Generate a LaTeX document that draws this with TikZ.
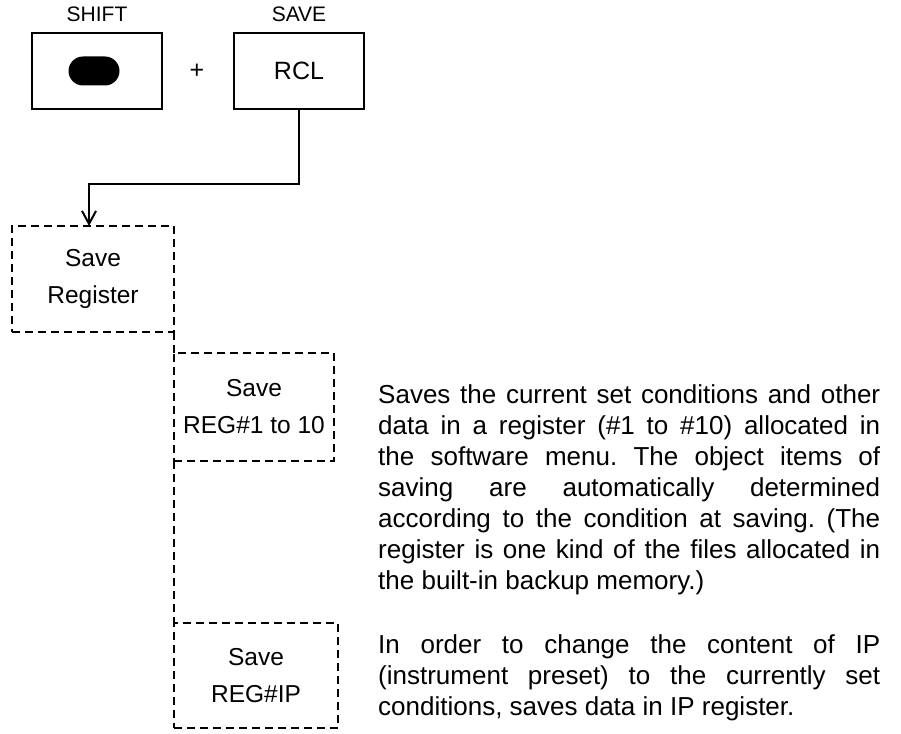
\documentclass[tikz,border=0pt]{standalone}
\usepackage{fontspec}
\setmainfont{Liberation Sans}
\usetikzlibrary{positioning, arrows.meta}
\frenchspacing

\begin{document}
\begin{tikzpicture}[
    x=1pt, y=-1pt,
    node distance=10pt,
    keybox/.style={rectangle, draw, line width=1.8pt, minimum width=130pt, minimum height=76pt, inner sep=0pt, font=\fontsize{25}{30}\selectfont},
    keylabel/.style={inner sep=0pt, font=\fontsize{21}{25}\selectfont},
    menubox/.style={rectangle, draw, line width=1.4pt, dash pattern=on 8pt off 5pt, align=center, inner sep=0pt, outer sep=0pt, font=\fontsize{24.5}{37}\selectfont},
    dashline/.style={draw, line width=1.4pt, dash pattern=on 8pt off 5pt},
    arrow/.style={-{Straight Barb[length=13pt, width=14pt, line width=2pt]}, line width=1.6pt},
    note/.style={anchor=north west, inner sep=0pt, text width=502pt, align=justify, font=\fontsize{26}{31}\selectfont}
]
\useasboundingbox (0,0) rectangle (901,733);

% Key sequence
\node[keybox] (shiftkey) at (97,71) {};
\node[fill=black, rounded corners=14.5pt, minimum width=51pt, minimum height=29pt, inner sep=0pt] (shiftdot) at (94,71) {};
\node[inner sep=0pt, font=\fontsize{25}{30}\selectfont] (plus) at (197,71) {+};
\node[keybox] (rclkey) at (299,71) {RCL};

% Key captions
\node[keylabel, above=10pt of shiftkey] {SHIFT};
\node[keylabel, above=10pt of rclkey] {SAVE};

% Menu boxes
\node[menubox, minimum width=162pt, minimum height=106pt] (savereg) at (93,279) {Save\\Register};
\node[menubox, minimum width=160pt, minimum height=108pt] (savenum) at (254,407) {Save\\REG\#1 to 10};
\node[menubox, minimum width=164pt, minimum height=105pt] (saveip) at (256,675.5) {Save\\REG\#IP};

% Tree lines
\draw[dashline] (savereg.south east) -- (savenum.north west);
\draw[dashline] (savenum.south west) -- (saveip.north west);

% Arrow from RCL key
\draw[arrow] (rclkey.south) -- ++(0,74) -| ([xshift=-4pt]savereg.north);

% Descriptions
\node[note] (numnote) at (378,384) {Saves the current set conditions and other\linebreak
data in a register (\#1 to \#10) allocated in\linebreak
the software menu. The object items of\linebreak
saving are automatically determined\linebreak
according to the condition at saving. (The\linebreak
register is one kind of the files allocated in\linebreak
the built-in backup memory.)};
\node[note] (ipnote) at (378,634) {In order to change the content of IP\linebreak
(instrument preset) to the currently set\linebreak
conditions, saves data in IP register.};

\end{tikzpicture}
\end{document}
